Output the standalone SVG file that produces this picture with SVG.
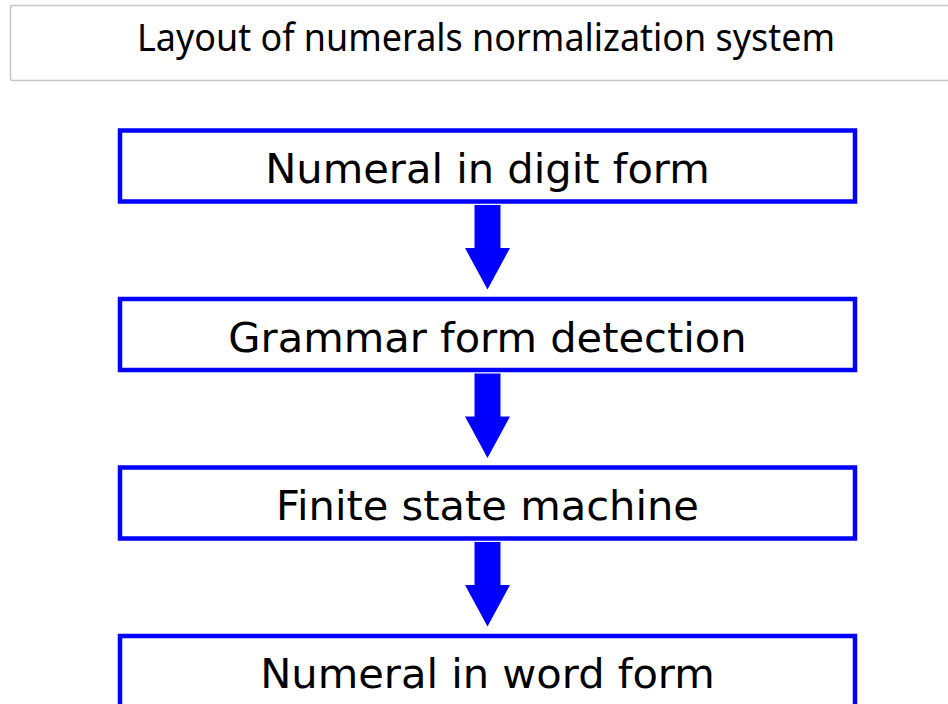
<svg xmlns="http://www.w3.org/2000/svg" width="948" height="704" viewBox="0 0 948 704">
<style>
.box{fill:#fff;stroke:#0000ff;stroke-width:4.5}
.lbl{font-family:"DejaVu Sans",sans-serif;font-size:41.6px;fill:#000;text-anchor:middle}
.arrow{fill:#0000ff}
</style>
<rect width="948" height="704" fill="#fff"/>
<g id="title">
<rect x="10.5" y="5.5" width="945" height="75" rx="2" fill="#fff" stroke="#c4c4c4" stroke-width="1.5"/>
<text x="486" y="51" font-family="'Noto Sans',sans-serif" font-size="38.5" text-anchor="middle" textLength="698" lengthAdjust="spacingAndGlyphs">Layout of numerals normalization system</text>
</g>
<g id="n1"><rect class="box" x="120" y="130.5" width="735" height="71"/><text class="lbl" x="487.5" y="182.5">Numeral in digit form</text></g>
<g id="n2"><rect class="box" x="120" y="299" width="735" height="71"/><text class="lbl" x="487.5" y="351.5">Grammar form detection</text></g>
<g id="n3"><rect class="box" x="120" y="467.5" width="735" height="71"/><text class="lbl" x="487.5" y="519.5">Finite state machine</text></g>
<g id="n4"><rect class="box" x="120" y="636" width="735" height="71"/><text class="lbl" x="487.5" y="688">Numeral in word form</text></g>
<g id="connectors">
<polygon class="arrow" points="474.5,205 500.5,205 500.5,248 510,248 487.5,289.5 465,248 474.5,248"/>
<polygon class="arrow" points="474.5,373.5 500.5,373.5 500.5,416.5 510,416.5 487.5,458 465,416.5 474.5,416.5"/>
<polygon class="arrow" points="474.5,542 500.5,542 500.5,585 510,585 487.5,626.5 465,585 474.5,585"/>
</g>
</svg>
